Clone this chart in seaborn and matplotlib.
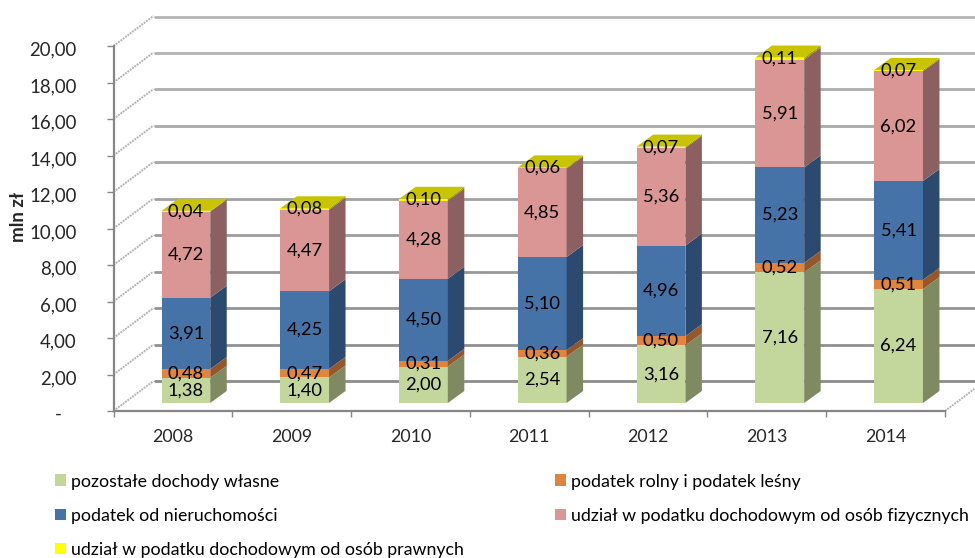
import matplotlib
matplotlib.use("Agg")
import matplotlib.pyplot as plt
import numpy as np
import seaborn as sns
from matplotlib.lines import Line2D
from matplotlib.patches import Patch, Polygon
from matplotlib.transforms import IdentityTransform, ScaledTranslation

years = ["2008", "2009", "2010", "2011", "2012", "2013", "2014"]
pozostale = [1.38, 1.40, 2.00, 2.54, 3.16, 7.16, 6.24]
rolny = [0.48, 0.47, 0.31, 0.36, 0.50, 0.52, 0.51]
nieruchomosci = [3.91, 4.25, 4.50, 5.10, 4.96, 5.23, 5.41]
fizyczne = [4.72, 4.47, 4.28, 4.85, 5.36, 5.91, 6.02]
prawne = [0.04, 0.08, 0.10, 0.06, 0.07, 0.11, 0.07]

series = [pozostale, rolny, nieruchomosci, fizyczne, prawne]
names = [
    "pozostałe dochody własne",
    "podatek rolny i podatek leśny",
    "podatek od nieruchomości",
    "udział w podatku dochodowym od osób fizycznych",
    "udział w podatku dochodowym od osób prawnych",
]
front_colors = ["#C3D69B", "#E0853D", "#4573A7", "#D99694", "#FFFF00"]
side_colors = ["#7F8A63", "#96582A", "#2C4A70", "#8C6060", "#A0A000"]
top_color = "#C8C400"
y_ticks = [0, 2, 4, 6, 8, 10, 12, 14, 16, 18, 20]
y_labels = ["-   ", "2,00", "4,00", "6,00", "8,00", "10,00", "12,00", "14,00", "16,00", "18,00", "20,00"]

W, H = 975, 558
DX, DY = 16.5, 12  # depth of a bar in pixels

sns.set_theme(style="white")
plt.rcParams["font.family"] = ["Lato", "DejaVu Sans"]
plt.rcParams["text.color"] = "black"


def axes_px(fig, left, right, y0, y20):
    # axes from pixel positions, y measured from the top of the image
    ax = fig.add_axes([left / W, 1 - y0 / H, (right - left) / W, (y0 - y20) / H])
    ax.set_ylim(0, 20)
    ax.set_xlim(-0.5, 6.5)
    ax.patch.set_alpha(0)
    return ax


fig = plt.figure(figsize=(W / 100, H / 100), dpi=100)
ax_wall = axes_px(fig, 155, 985, 381, 16.5)
ax_front = axes_px(fig, 113.5, 945, 411, 46)
ax_bars = axes_px(fig, 126.5, 958, 403, 38)

# back wall with grid lines
ax_wall.set_yticks(y_ticks)
ax_wall.set_xticks([])
ax_wall.tick_params(left=False, labelleft=False)
ax_wall.grid(axis="y", lw=2.0)
greys = np.linspace(0.55, 0.71, len(y_ticks))
for line, g in zip(ax_wall.get_ygridlines(), greys):
    line.set_color(str(g))
    line.set_clip_on(False)
sns.despine(ax=ax_wall, left=True, bottom=True)

# front axis
ax_front.set_yticks(y_ticks, y_labels, fontsize=13.4)
ax_front.set_xticks(range(len(years)), years, fontsize=12.8)
ax_front.set_xticks(np.arange(-0.5, 7), minor=True)
ax_front.tick_params(axis="x", which="major", length=0, pad=13)
ax_front.tick_params(axis="x", which="minor", length=4, width=1.0, color="#868686", bottom=True)
ax_front.tick_params(axis="y", length=5, width=1.0, color="#868686", pad=21.6, left=True)
for label in ax_front.get_yticklabels():
    label.set_transform(label.get_transform() + ScaledTranslation(0, -2.5 / 100, fig.dpi_scale_trans))
ax_front.set_ylabel("mln zł", fontsize=13.5, fontweight="bold")
ax_front.yaxis.set_label_coords((27 - 113.5) / 831.5, 0.531)
sns.despine(ax=ax_front)
for side in ["left", "bottom"]:
    ax_front.spines[side].set_color("#868686")
    ax_front.spines[side].set_linewidth(1.6)

# diagonal lines on the side wall and floor
diag_px = [ax_front.transData.transform((-0.5, t)) for t in y_ticks]
diag_px.append(ax_front.transData.transform((6.5, 0)))
for x, y in diag_px:
    ax_front.add_line(Line2D([x, x + 40], [y, y + 30], transform=IdentityTransform(),
                             color="#b4b4b4", lw=1.4, ls=(0, (1, 0.5)), clip_on=False, zorder=1))

# stacked bars, one barplot per series
bottom = np.zeros(len(years))
for values, color in zip(series, front_colors):
    sns.barplot(x=years, y=values, bottom=bottom, color=color, saturation=1, width=0.41,
                ax=ax_bars, linewidth=0)
    bottom = bottom + np.array(values)
ax_bars.set_xlim(-0.5, 6.5)
ax_bars.set_ylim(0, 20)
ax_bars.set_axis_off()

# side and top faces taken from the drawn bars
for k, (container, side_color) in enumerate(zip(ax_bars.containers, side_colors)):
    for bar in container:
        x0, y0 = ax_bars.transData.transform((bar.get_x(), bar.get_y()))
        x1, y1 = ax_bars.transData.transform((bar.get_x() + bar.get_width(), bar.get_y() + bar.get_height()))
        side = [(x1, y0), (x1 + DX, y0 + DY), (x1 + DX, y1 + DY), (x1, y1)]
        ax_bars.add_patch(Polygon(side, transform=IdentityTransform(), fc=side_color, ec="none", clip_on=False))
        if k == len(series) - 1:
            top = [(x0, y1), (x1, y1), (x1 + DX, y1 + DY), (x0 + DX, y1 + DY)]
            ax_bars.add_patch(Polygon(top, transform=IdentityTransform(), fc=top_color, ec="none", clip_on=False))

for container, values in zip(ax_bars.containers, series):
    labels = [f"{v:.2f}".replace(".", ",") for v in values]
    for txt in ax_bars.bar_label(container, labels=labels, label_type="center", fontsize=13.2, color="black"):
        txt.set_clip_on(False)
        txt.set_zorder(10)

# legend, filled column by column
order = [0, 2, 4, 1, 3]
handles = [Patch(fc=front_colors[i], ec="none") for i in order]
fig.legend(handles, [names[i] for i in order], ncol=2, frameon=False, fontsize=12.8,
           loc="upper left", bbox_to_anchor=(55 / W, 1 - 473.5 / H), bbox_transform=fig.transFigure,
           borderaxespad=0, borderpad=0, handlelength=0.62, handleheight=0.62, handletextpad=0.28,
           labelspacing=1.02, columnspacing=5.15)

fig.savefig("out.png", dpi=100)
